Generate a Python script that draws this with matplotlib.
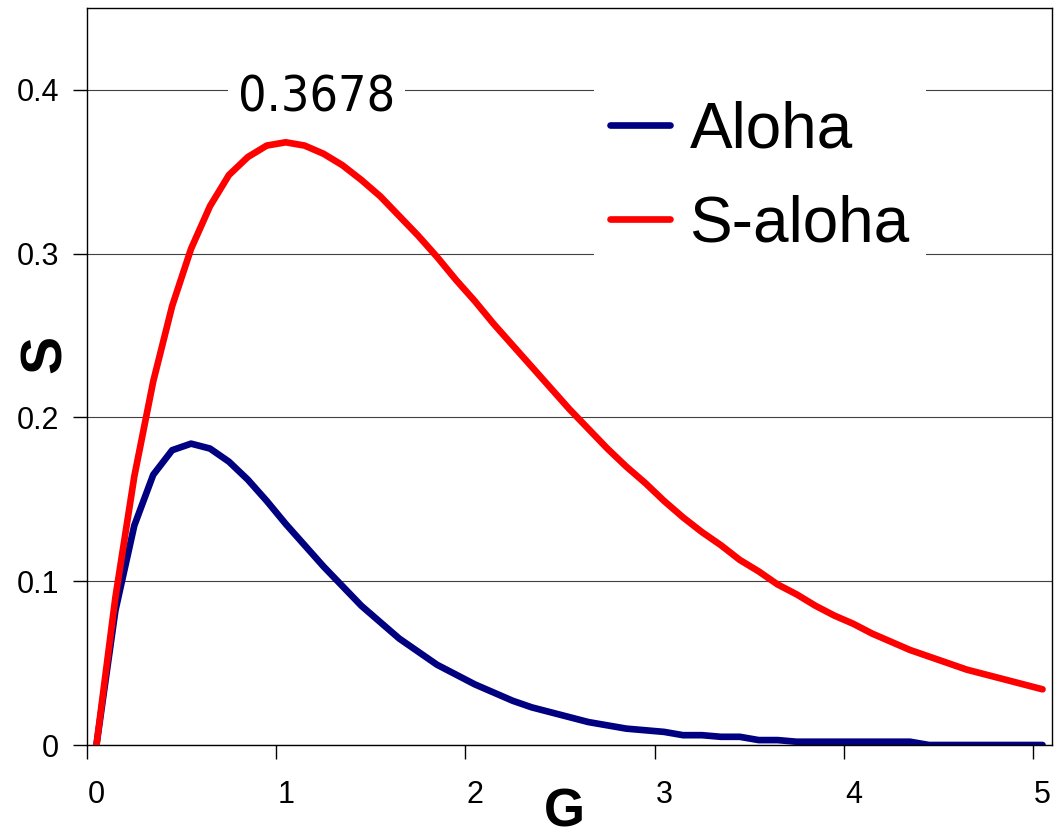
import numpy as np
import matplotlib.pyplot as plt

# offered load G (one category every 0.1)
G = np.round(np.arange(0, 5.01, 0.1), 1)

aloha = [0.000, 0.082, 0.134, 0.165, 0.180, 0.184, 0.181, 0.173, 0.162, 0.149,
         0.135, 0.122, 0.109, 0.097, 0.085, 0.075, 0.065, 0.057, 0.049, 0.043,
         0.037, 0.032, 0.027, 0.023, 0.020, 0.017, 0.014, 0.012, 0.010, 0.009,
         0.008, 0.006, 0.006, 0.005, 0.005, 0.003, 0.003, 0.002, 0.002, 0.002,
         0.002, 0.002, 0.002, 0.002, 0.000, 0.000, 0.000, 0.000, 0.000, 0.000,
         0.000]

s_aloha = [0.000, 0.090, 0.164, 0.222, 0.268, 0.303, 0.329, 0.348, 0.359, 0.366,
           0.368, 0.366, 0.361, 0.354, 0.345, 0.335, 0.323, 0.311, 0.298, 0.284,
           0.271, 0.257, 0.244, 0.231, 0.218, 0.205, 0.193, 0.181, 0.170, 0.160,
           0.149, 0.139, 0.130, 0.122, 0.113, 0.106, 0.098, 0.092, 0.085, 0.079,
           0.074, 0.068, 0.063, 0.058, 0.054, 0.050, 0.046, 0.043, 0.040, 0.037,
           0.034]

x_labels = [0, 1, 2, 3, 4, 5]
y_ticks = [0, 0.1, 0.2, 0.3, 0.4]
y_labels = ['0', '0.1', '0.2', '0.3', '0.4']
peak_text = '0.3678'

plt.rcParams['font.family'] = ['Liberation Sans', 'DejaVu Sans']

fig = plt.figure(figsize=(10.55, 8.38), dpi=100)
ax = fig.add_axes([87 / 1055, 1 - 745 / 838, 965 / 1055, 737 / 838])

ax.plot(G, aloha, color='#000080', lw=4.8, solid_capstyle='round',
        solid_joinstyle='round', label='Aloha', zorder=2)
ax.plot(G, s_aloha, color='#ff0000', lw=4.8, solid_capstyle='round',
        solid_joinstyle='round', label='S-aloha', zorder=3)

ax.set_xlim(-0.05, 5.05)
ax.set_ylim(0, 0.45)

# ticks sit between categories, labels on the categories (Excel style)
ax.set_xticks(np.arange(len(x_labels)) - 0.05)
ax.set_xticklabels([])
ax.set_xticks(x_labels, minor=True)
ax.set_xticklabels([str(v) for v in x_labels], minor=True)
ax.tick_params(axis='x', which='major', direction='out', length=10, width=1)
ax.tick_params(axis='x', which='minor', length=0, pad=25, labelsize=22)

ax.set_yticks(y_ticks)
ax.set_yticklabels(y_labels)
ax.tick_params(axis='y', direction='out', length=10, width=1, pad=10, labelsize=22)

ax.set_axisbelow(True)
ax.yaxis.grid(True, color='#404040', lw=0.8)
for sp in ax.spines.values():
    sp.set_color('black')
    sp.set_linewidth(1.0)

ax.text(1.165, 0.3867, peak_text, family='DejaVu Sans', stretch='condensed',
        fontsize=36, ha='center', va='baseline', zorder=1,
        bbox=dict(boxstyle='square,pad=0.2', facecolor='white', edgecolor='none'))

leg = ax.legend(loc='upper left', bbox_to_anchor=(0.525, 0.896), borderaxespad=0,
                fontsize=46, handlelength=0.95, handletextpad=0.3, labelspacing=0.53,
                borderpad=0.25, frameon=True, fancybox=False, framealpha=1)
leg.get_frame().set_edgecolor('none')
leg.get_frame().set_facecolor('white')
for h in leg.get_lines():
    h.set_solid_capstyle('round')

fig.text(46 / 1055, 1 - 354 / 838, 'S', fontsize=41, fontweight='bold',
         rotation=90, ha='center', va='center')
fig.text(564 / 1055, 1 / 838, 'G', fontsize=38, fontweight='bold',
         ha='center', va='bottom')

fig.savefig('out.png', dpi=100)
